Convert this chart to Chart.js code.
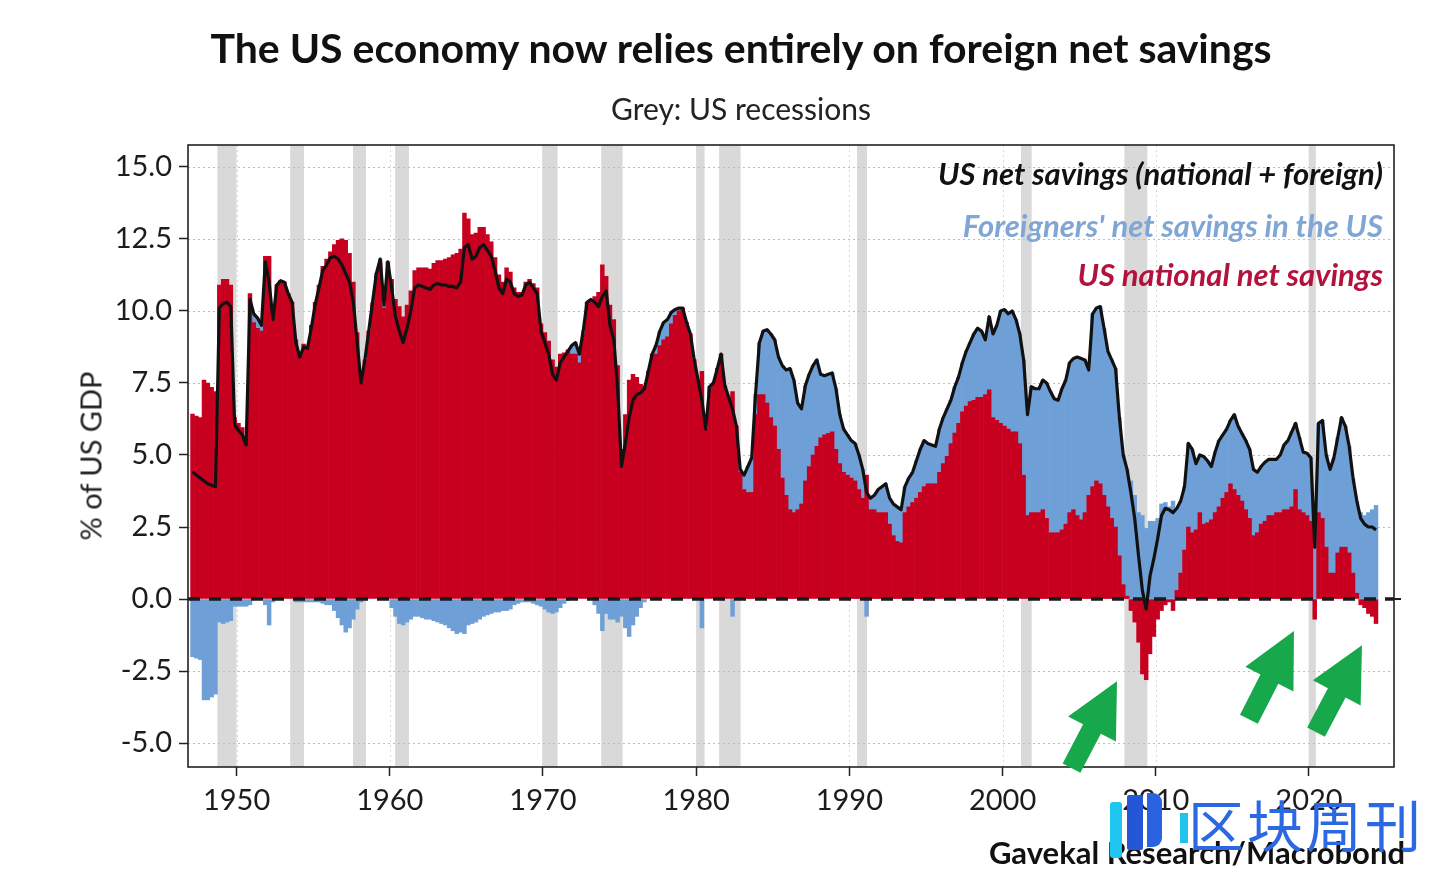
<!DOCTYPE html>
<html>
<head>
<meta charset="utf-8">
<script src="https://cdn.jsdelivr.net/npm/chart.js@4.4.1/dist/chart.umd.min.js"></script>
<style>
  body { margin: 0; background: #fff; }
  #wrap { position: relative; width: 1456px; height: 876px; overflow: hidden; font-family: Lato, "Open Sans", sans-serif; color: #1a1a1a; }
  #chart { position: absolute; left: 0; top: 0; }
  .abs { position: absolute; white-space: nowrap; line-height: 1; }
  #title { left: 741px; top: 27px; transform: translateX(-50%); font-size: 41px; font-weight: 700; color: #111; }
  #subtitle { left: 741px; top: 93px; transform: translateX(-50%); font-size: 30px; color: #222; }
  #ytitle { left: 90px; top: 456px; transform: translate(-50%, -50%) rotate(-90deg); font-size: 29px; color: #222; }
  .leg { right: 73px; font-size: 31px; font-style: italic; font-weight: 700; }
  #leg1 { top: 158px; color: #111; }
  #leg2 { top: 210px; color: #7fa6d4; }
  #leg3 { top: 259px; color: #b3123d; }
  #source { right: 51px; top: 837px; font-size: 31px; font-weight: 700; color: #111; }
  .logo { position: absolute; }
  #wm { left: 1188px; top: 795px; font-family: "Noto Sans CJK SC", sans-serif; font-size: 56px; letter-spacing: 3px; color: #2b68e2; }
</style>
</head>
<body>
<div id="wrap">
  <canvas id="chart" width="1456" height="876"></canvas>
  <div class="abs" id="title">The US economy now relies entirely on foreign net savings</div>
  <div class="abs" id="subtitle">Grey: US recessions</div>
  <div class="abs" id="ytitle">% of US GDP</div>
  <div class="abs leg" id="leg1">US net savings (national + foreign)</div>
  <div class="abs leg" id="leg2">Foreigners' net savings in the US</div>
  <div class="abs leg" id="leg3">US national net savings</div>
  <div class="abs" id="source">Gavekal Research/Macrobond</div>
  <div class="logo" style="left:1110px;top:802px;width:12px;height:56px;background:#1fc6ef;border-radius:3px;"></div>
  <div class="logo" style="left:1127px;top:795px;width:16px;height:55px;background:#2456d8;border-radius:2px;"></div>
  <div class="logo" style="left:1147px;top:793px;width:15px;height:54px;background:#2a63e1;border-radius:0 9px 9px 0;"></div>
  <div class="logo" style="left:1180px;top:813px;width:8px;height:30px;background:#22c4ee;"></div>
  <div class="abs" id="wm">区块周刊</div>
</div>
<script>
// quarterly data, first quarter = 1947 Q1
const startYear = 1947;

// US national net savings, % of GDP
const national = [
  6.42, 6.35, 6.3, 7.6,      // 1947
  7.5, 7.35, 7.2, 10.9,      // 1948
  11.1, 11.1, 10.9, 6.3,     // 1949
  6.1, 5.95, 5.6, 10.6,      // 1950
  9.6, 9.4, 9.3, 11.9,       // 1951
  11.9, 9.8, 10.9, 11.05,    // 1952
  11.0, 10.6, 10.3, 9.0,     // 1953
  8.5, 8.85, 8.8, 9.5,       // 1954
  10.3, 10.9, 11.55, 11.8,   // 1955
  12.05, 12.3, 12.45, 12.5,  // 1956
  12.45, 12.0, 11.0, 9.25,   // 1957
  7.6, 8.3, 9.3, 10.25,      // 1958
  11.2, 11.7, 10.1, 11.7,    // 1959
  11.1, 10.4, 10.15, 9.8,    // 1960
  10.2, 10.7, 11.4, 11.5,    // 1961
  11.5, 11.5, 11.45, 11.65,  // 1962
  11.75, 11.75, 11.8, 11.85, // 1963
  11.95, 12.0, 12.15, 13.4,  // 1964
  13.2, 12.65, 12.7, 12.9,   // 1965
  12.9, 12.65, 12.4, 11.85,  // 1966
  11.25, 11.0, 11.5, 11.35,  // 1967
  10.8, 10.65, 10.65, 11.0,  // 1968
  11.1, 10.95, 10.8, 9.55,   // 1969
  9.25, 8.95, 8.3, 8.05,     // 1970
  8.5, 8.55, 8.65, 8.5,      // 1971
  8.5, 8.2, 9.2, 10.3,       // 1972
  10.4, 10.5, 10.65, 11.6,   // 1973
  11.2, 10.2, 9.7, 8.1,      // 1974
  5.2, 6.4, 7.6, 7.8,        // 1975
  7.7, 7.45, 7.4, 7.9,       // 1976
  8.5, 8.5, 8.8, 9.0,        // 1977
  9.1, 9.55, 9.85, 10.0,     // 1978
  10.1, 9.6, 9.2, 8.3,       // 1979
  7.6, 7.9, 5.9, 7.37,       // 1980
  7.5, 8.0, 8.5, 7.4,        // 1981
  7.0, 7.2, 6.0, 4.4,        // 1982
  3.8, 3.7, 3.7, 6.4,        // 1983
  7.1, 7.1, 6.8, 6.3,        // 1984
  6.0, 5.2, 4.2, 3.6,        // 1985
  3.1, 3.0, 3.1, 3.3,        // 1986
  4.1, 4.6, 5.0, 5.3,        // 1987
  5.6, 5.7, 5.75, 5.8,       // 1988
  5.2, 4.7, 4.4, 4.3,        // 1989
  4.2, 4.1, 3.8, 3.5,        // 1990
  4.3, 3.1, 3.1, 3.0,        // 1991
  3.0, 3.0, 2.6, 2.2,        // 1992
  2.0, 1.95, 3.0, 3.2,       // 1993
  3.35, 3.5, 3.7, 3.9,       // 1994
  4.0, 4.0, 4.0, 4.4,        // 1995
  4.7, 4.95, 5.4, 5.76,      // 1996
  6.1, 6.5, 6.7, 6.85,       // 1997
  6.9, 7.0, 7.0, 7.1,        // 1998
  7.26, 6.3, 6.2, 6.1,       // 1999
  6.0, 5.9, 5.8, 5.8,        // 2000
  5.4, 4.3, 2.9, 3.0,        // 2001
  3.0, 3.0, 3.1, 2.8,        // 2002
  2.3, 2.3, 2.3, 2.4,        // 2003
  2.6, 3.0, 3.1, 2.9,        // 2004
  2.75, 3.0, 3.6, 3.9,       // 2005
  4.1, 4.0, 3.6, 3.2,        // 2006
  2.8, 2.5, 1.5, 0.5,        // 2007
  0.1, -0.4, -0.8, -1.5,     // 2008
  -2.6, -2.8, -1.9, -1.3,    // 2009
  -0.7, -0.4, -0.2, -0.1,    // 2010
  -0.4, 0.3, 0.9, 1.7,       // 2011
  2.5, 2.3, 2.4, 3.0,        // 2012
  2.6, 2.65, 2.75, 3.0,      // 2013
  3.2, 3.5, 3.7, 4.0,        // 2014
  3.8, 3.6, 3.4, 3.1,        // 2015
  2.8, 2.2, 2.3, 2.6,        // 2016
  2.7, 2.9, 2.9, 3.0,        // 2017
  3.0, 3.1, 3.1, 3.2,        // 2018
  3.8, 3.1, 3.0, 2.9,        // 2019
  2.7, -0.7, 3.0, 2.8,       // 2020
  1.8, 0.9, 0.9, 1.6,        // 2021
  1.8, 1.8, 1.6, 0.9,        // 2022
  0.2, -0.2, -0.3, -0.5,     // 2023
  -0.6, -0.85                // 2024
];

// foreigners' net savings in the US, % of GDP
const foreign = [
  -2.0, -2.05, -2.1, -3.5,   // 1947
  -3.5, -3.4, -3.3, -0.8,    // 1948
  -0.85, -0.8, -0.75, -0.25, // 1949
  -0.25, -0.25, -0.25, -0.2, // 1950
  0.3, 0.35, 0.2, -0.2,      // 1951
  -0.9, -0.1, 0, 0,          // 1952
  0, 0, 0, -0.1,             // 1953
  -0.1, -0.1, -0.1, -0.1,    // 1954
  -0.1, -0.1, -0.15, -0.2,   // 1955
  -0.2, -0.4, -0.65, -0.9,   // 1956
  -1.15, -1.0, -0.7, -0.35,  // 1957
  -0.1, 0, 0, 0.05,          // 1958
  0.1, 0.1, 0.1, 0,          // 1959
  -0.3, -0.6, -0.85, -0.9,   // 1960
  -0.8, -0.7, -0.6, -0.6,    // 1961
  -0.65, -0.7, -0.7, -0.75,  // 1962
  -0.8, -0.85, -0.9, -1.0,   // 1963
  -1.1, -1.2, -1.15, -1.2,   // 1964
  -0.9, -0.85, -0.8, -0.7,   // 1965
  -0.6, -0.55, -0.5, -0.45,  // 1966
  -0.45, -0.4, -0.4, -0.35,  // 1967
  -0.2, -0.15, -0.1, -0.1,   // 1968
  -0.1, -0.15, -0.2, -0.25,  // 1969
  -0.35, -0.45, -0.5, -0.45, // 1970
  -0.3, -0.15, -0.05, 0.3,   // 1971
  0.4, 0.3, 0.1, 0,          // 1972
  0, -0.2, -0.5, -1.1,       // 1973
  -0.5, -0.7, -0.7, -0.8,    // 1974
  -0.6, -1.0, -1.3, -0.9,    // 1975
  -0.6, -0.3, -0.1, 0,       // 1976
  0, 0.3, 0.5, 0.6,          // 1977
  0.6, 0.4, 0.2, 0.1,        // 1978
  0, 0, 0, 0,                // 1979
  0, -1.0, 0, 0,             // 1980
  0, 0, 0, 0,                // 1981
  0, -0.6, 0, 0.1,           // 1982
  0.5, 0.9, 1.2, 0.7,        // 1983
  1.8, 2.2, 2.55, 2.9,       // 1984
  3.0, 3.2, 3.9, 4.35,       // 1985
  4.9, 4.6, 3.7, 3.3,        // 1986
  3.3, 3.2, 3.1, 3.0,        // 1987
  2.2, 2.05, 2.05, 2.05,     // 1988
  2.1, 1.7, 1.5, 1.4,        // 1989
  1.3, 1.3, 1.2, 1.0,        // 1990
  -0.6, 0.4, 0.5, 0.8,       // 1991
  0.9, 1.0, 0.9, 1.1,        // 1992
  1.2, 1.15, 0.9, 1.0,       // 1993
  1.05, 1.3, 1.5, 1.6,       // 1994
  1.4, 1.35, 1.3, 1.5,       // 1995
  1.6, 1.65, 1.5, 1.6,       // 1996
  1.6, 1.7, 1.9, 2.05,       // 1997
  2.3, 2.4, 2.3, 1.9,        // 1998
  2.54, 2.9, 3.3, 3.9,       // 1999
  4.05, 4.0, 4.2, 3.9,       // 2000
  3.8, 4.0, 3.5, 4.37,       // 2001
  4.3, 4.3, 4.5, 4.7,        // 2002
  4.9, 4.65, 4.6, 4.9,       // 2003
  5.0, 5.2, 5.25, 5.5,       // 2004
  5.6, 5.3, 4.35, 6.0,       // 2005
  6.0, 6.15, 5.8, 5.4,       // 2006
  5.5, 5.5, 4.8, 4.5,        // 2007
  4.4, 4.1, 3.6, 3.0,        // 2008
  2.9, 2.45, 2.7, 2.7,       // 2009
  2.8, 3.3, 3.35, 3.2,       // 2010
  3.4, 2.85, 2.5, 2.2,       // 2011
  2.9, 2.9, 2.3, 2.0,        // 2012
  2.35, 2.15, 1.85, 2.1,     // 2013
  2.3, 2.2, 2.2, 2.2,        // 2014
  2.6, 2.4, 2.35, 2.4,       // 2015
  2.4, 2.3, 2.1, 2.0,        // 2016
  2.05, 1.95, 1.95, 1.85,    // 2017
  2.0, 2.25, 2.4, 2.6,       // 2018
  2.3, 2.5, 2.1, 2.16,       // 2019
  2.2, 2.5, 3.1, 3.4,        // 2020
  3.2, 3.6, 4.0, 4.0,        // 2021
  4.5, 4.2, 3.7, 3.3,        // 2022
  3.2, 3.0, 2.9, 3.0,        // 2023
  3.1, 3.25                  // 2024
];

// NBER recessions as shaded on the chart [start, end] in decimal years
const recessions = [
  [1948.75, 1950.0], [1953.5, 1954.4], [1957.6, 1958.45], [1960.35, 1961.25],
  [1969.95, 1970.95], [1973.8, 1975.2], [1980.0, 1980.55], [1981.5, 1982.9],
  [1990.5, 1991.15], [2001.2, 2001.9], [2007.95, 2009.45], [2019.98, 2020.45]
];

const decadeTicks = [1950, 1960, 1970, 1980, 1990, 2000, 2010, 2020];
const valueTicks = [-5, -2.5, 0, 2.5, 5, 7.5, 10, 12.5, 15];

// green arrows: [tail year, tail value, tip year, tip value]
const arrows = [
  [2004.5, -5.87, 2007.47, -2.85],
  [2016.08, -4.17, 2019.02, -1.11],
  [2020.46, -4.62, 2023.46, -1.6]
];

const quarterX = national.map((v, i) => startYear + i / 4 + 0.125);
const natPts = national.map((v, i) => ({ x: quarterX[i], y: v }));
const forPts = foreign.map((v, i) => ({ x: quarterX[i], y: v }));
const totPts = national.map((v, i) => ({ x: quarterX[i], y: +(v + foreign[i]).toFixed(2) }));

const extras = {
  id: 'extras',
  beforeDatasetsDraw(chart) {
    const { ctx, chartArea: a, scales: { x, y } } = chart;
    ctx.save();
    ctx.beginPath();
    ctx.rect(a.left, a.top, a.width, a.height);
    ctx.clip();
    ctx.fillStyle = '#d9d9d9';
    recessions.forEach(([s, e]) => {
      const x0 = x.getPixelForValue(s);
      const x1 = x.getPixelForValue(e);
      ctx.fillRect(x0, a.top, x1 - x0, a.height);
    });
    ctx.lineWidth = 1;
    ctx.setLineDash([2, 3]);
    ctx.strokeStyle = '#bdbdbd';
    valueTicks.forEach(v => {
      if (v === 0) return;
      const py = Math.round(y.getPixelForValue(v)) + 0.5;
      ctx.beginPath();
      ctx.moveTo(a.left, py);
      ctx.lineTo(a.right, py);
      ctx.stroke();
    });
    ctx.strokeStyle = '#d9d9d9';
    decadeTicks.forEach(v => {
      const px = Math.round(x.getPixelForValue(v)) + 0.5;
      ctx.beginPath();
      ctx.moveTo(px, a.top);
      ctx.lineTo(px, a.bottom);
      ctx.stroke();
    });
    ctx.restore();
  },
  afterDatasetsDraw(chart) {
    const { ctx, chartArea: a, scales: { y } } = chart;
    const y0 = y.getPixelForValue(0);
    ctx.save();
    ctx.strokeStyle = '#1a1a1a';
    ctx.lineWidth = 3.5;
    ctx.setLineDash([12, 9]);
    ctx.beginPath();
    ctx.moveTo(a.left, y0);
    ctx.lineTo(a.right, y0);
    ctx.stroke();
    ctx.setLineDash([]);
    ctx.lineWidth = 2;
    ctx.beginPath();
    ctx.moveTo(a.right, y0);
    ctx.lineTo(a.right + 7, y0);
    ctx.stroke();
    ctx.strokeStyle = '#222';
    ctx.lineWidth = 1.6;
    ctx.strokeRect(a.left, a.top, a.width, a.height);
    ctx.restore();
  },
  afterDraw(chart) {
    const { ctx, scales: { x, y } } = chart;
    ctx.save();
    ctx.fillStyle = '#17a84b';
    arrows.forEach(([tx, ty, hx, hy]) => {
      const ax = x.getPixelForValue(tx), ay = y.getPixelForValue(ty);
      const bx = x.getPixelForValue(hx), by = y.getPixelForValue(hy);
      const len = Math.hypot(bx - ax, by - ay);
      const dx = (bx - ax) / len, dy = (by - ay) / len;
      const nx = -dy, ny = dx;
      const head = 54, hw = 27, sw = 10;
      const cx = bx - dx * head, cy = by - dy * head;
      ctx.beginPath();
      ctx.moveTo(ax + nx * sw, ay + ny * sw);
      ctx.lineTo(cx + nx * sw, cy + ny * sw);
      ctx.lineTo(cx + nx * hw, cy + ny * hw);
      ctx.lineTo(bx, by);
      ctx.lineTo(cx - nx * hw, cy - ny * hw);
      ctx.lineTo(cx - nx * sw, cy - ny * sw);
      ctx.lineTo(ax - nx * sw, ay - ny * sw);
      ctx.closePath();
      ctx.fill();
    });
    ctx.restore();
  }
};

const tickFont = { family: 'Lato', size: 29 };

new Chart(document.getElementById('chart'), {
  type: 'bar',
  data: {
    datasets: [
      {
        type: 'line',
        label: 'US net savings (national + foreign)',
        data: totPts,
        borderColor: '#111',
        borderWidth: 3.2,
        borderJoinStyle: 'round',
        pointRadius: 0,
        tension: 0,
        fill: false,
        order: 0
      },
      {
        label: 'US national net savings',
        data: natPts,
        backgroundColor: '#c8001f',
        borderWidth: 0,
        barPercentage: 1,
        categoryPercentage: 1,
        order: 1
      },
      {
        label: "Foreigners' net savings in the US",
        data: forPts,
        backgroundColor: '#6e9fd6',
        borderWidth: 0,
        barPercentage: 1,
        categoryPercentage: 1,
        order: 2
      }
    ]
  },
  options: {
    responsive: false,
    animation: false,
    devicePixelRatio: 1,
    layout: { padding: { top: 145, right: 62, bottom: 0, left: 0 } },
    scales: {
      x: {
        type: 'linear',
        stacked: true,
        min: 1946.83,
        max: 2025.55,
        offset: false,
        grid: { offset: false, drawOnChartArea: false, color: '#222', tickLength: 9, tickWidth: 1.5 },
        border: { display: false },
        ticks: { font: tickFont, color: '#1c1c1c', padding: 7, maxRotation: 0, callback: v => String(v) },
        afterBuildTicks: s => { s.ticks = decadeTicks.map(v => ({ value: v })); },
        afterFit: s => { s.height = 109; }
      },
      y: {
        stacked: true,
        min: -5.83,
        max: 15.76,
        grid: { drawOnChartArea: false, color: '#222', tickLength: 9, tickWidth: 1.5 },
        border: { display: false },
        ticks: { font: tickFont, color: '#1c1c1c', padding: 7, callback: v => v.toFixed(1) },
        afterBuildTicks: s => { s.ticks = valueTicks.map(v => ({ value: v })); },
        afterFit: s => { s.width = 188; }
      }
    },
    plugins: {
      legend: { display: false },
      tooltip: { enabled: false }
    }
  },
  plugins: [extras]
});
</script>
</body>
</html>
